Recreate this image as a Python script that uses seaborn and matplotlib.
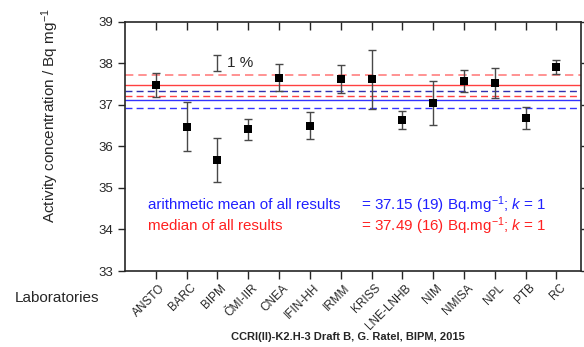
import numpy as np
import pandas as pd
import seaborn as sns
import matplotlib.pyplot as plt
import matplotlib.transforms as mtransforms

# Reported activity concentrations (Bq/mg) and standard uncertainties
labs = ['ANSTO', 'BARC', 'BIPM', 'ČMI-IIR', 'CNEA', 'IFIN-HH', 'IRMM', 'KRISS',
        'LNE-LNHB', 'NIM', 'NMISA', 'NPL', 'PTB', 'RC']
values = [37.47, 36.48, 35.67, 36.41, 37.66, 36.50, 37.63, 37.62,
          36.64, 37.05, 37.58, 37.53, 36.69, 37.91]
uncert = [0.29, 0.58, 0.53, 0.25, 0.33, 0.32, 0.34, 0.71,
          0.22, 0.53, 0.27, 0.36, 0.26, 0.16]

mean_line = 37.13
mean_band = [36.92, 37.34]
median_line = 37.47
median_band = [37.21, 37.72]

scale_bar = [37.82, 38.20]  # 1 % marker near BIPM

df = pd.DataFrame({'lab': labs, 'value': values, 'u': uncert})
df['pos'] = np.arange(len(df))

sns.set_style('ticks')
plt.rcParams['font.family'] = ['Liberation Sans', 'DejaVu Sans']
plt.rcParams['mathtext.fontset'] = 'custom'
plt.rcParams['mathtext.rm'] = 'Liberation Sans'
plt.rcParams['mathtext.it'] = 'Liberation Sans:italic'

fig = plt.figure(figsize=(5.84, 3.47), dpi=100)
ax = fig.add_axes([0.214, 0.219, 0.781, 0.718])

# reference lines
ax.axhline(mean_line, color='#3333ff', lw=1.0)
ax.axhline(mean_band[0], color='#3333ff', lw=1.0, ls=(0, (5, 3)))
ax.axhline(mean_band[1], color='#3030b0', lw=1.0, ls=(0, (5, 3)))
ax.axhline(median_line, color='#ff4040', lw=1.0)
ax.axhline(median_band[0], color='#ff4040', lw=1.0, ls=(0, (5, 3)))
ax.axhline(median_band[1], color='#ff8080', lw=1.2, ls=(0, (5, 3)))

ax.errorbar(df['pos'], df['value'], yerr=df['u'], fmt='none',
            ecolor='#484848', elinewidth=1.0, capsize=3, capthick=1.0, zorder=3)
sns.scatterplot(data=df, x='pos', y='value', marker='s', s=30, color='black',
                edgecolor='black', linewidth=0, ax=ax, zorder=4)

# 1 % scale bar
ax.errorbar([2], [np.mean(scale_bar)], yerr=[(scale_bar[1] - scale_bar[0]) / 2],
            fmt='none', ecolor='#484848', elinewidth=1.0, capsize=3)
ax.text(2.3, np.mean(scale_bar), '1 %', fontsize=11, va='center', ha='left')

fs = 10.9
ax.text(-0.26, 34.58, 'arithmetic mean of all results', color='#2020ff',
        fontsize=fs, va='center')
ax.text(6.66, 34.58, '= 37.15 (19) Bq.mg$^{-1}$; $k$ = 1', color='#2020ff',
        fontsize=fs, va='center')
ax.text(-0.26, 34.09, 'median of all results', color='#ff2020',
        fontsize=fs, va='center')
ax.text(6.66, 34.09, '= 37.49 (16) Bq.mg$^{-1}$; $k$ = 1', color='#ff2020',
        fontsize=fs, va='center')

ax.set_xlim(-1, 13.8)
ax.set_ylim(33, 39)
ax.set_yticks(range(33, 40))
ax.tick_params(axis='y', labelsize=9.5, length=5, width=1, direction='out',
               right=True)
ax.set_xticks(df['pos'])
ax.set_xticklabels(df['lab'], rotation=45, ha='right', rotation_mode='anchor',
                   fontsize=8.5)
ax.tick_params(axis='x', length=6, width=1, direction='out', top=True, pad=4)
shift = mtransforms.ScaledTranslation(0.03, 0.03, fig.dpi_scale_trans)
for lbl in ax.get_xticklabels():
    lbl.set_transform(lbl.get_transform() + shift)
for t in ax.xaxis.get_majorticklines()[1::2]:
    t.set_marker(3)
for t in ax.yaxis.get_majorticklines()[1::2]:
    t.set_marker(1)
ax.set_xlabel('')
ax.set_ylabel('')
for sp in ax.spines.values():
    sp.set_linewidth(1.2)

fig.text(0.086, 0.668, 'Activity concentration / Bq mg$^{-1}$', fontsize=11,
         rotation=90, ha='center', va='center')
fig.text(0.026, 0.14, 'Laboratories', fontsize=11, va='center')
fig.text(0.595, 0.03, 'CCRI(II)-K2.H-3 Draft B, G. Ratel, BIPM, 2015',
         fontsize=8, fontweight='bold', ha='center', va='center')

fig.savefig('out.png', dpi=100)
